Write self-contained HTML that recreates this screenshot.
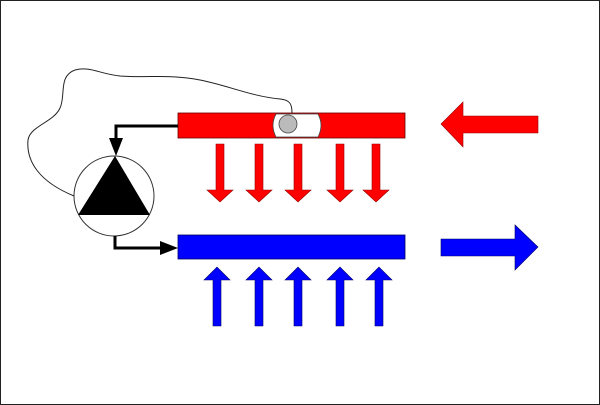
<!DOCTYPE html>
<html><head><meta charset="utf-8"><style>html,body{margin:0;padding:0;background:#fff}svg{display:block}</style></head>
<body>
<svg width="600" height="405" viewBox="0 0 600 405" xmlns="http://www.w3.org/2000/svg">
<rect x="0.5" y="0.5" width="599" height="404" fill="#fff" stroke="#222" stroke-width="1"/>
<!-- wire -->
<path d="M292,113 C292,104 290,100 280,99 C250,96 230,86 200,80 C170,74 150,78 120,76 C100,74 90,66 75,70 C58,76 66,96 60,108 C54,122 30,126 28,140 C26,162 40,182 74,196" fill="none" stroke="#222" stroke-width="1"/>
<!-- red bar -->
<rect x="178" y="113" width="227" height="25" fill="#f00" stroke="#600" stroke-width="0.8"/>
<path d="M276,114 L318,114 Q324,125 318,137 L276,137 Q270,125 276,114 Z" fill="#fff" stroke="#444" stroke-width="0.8"/>
<circle cx="288" cy="124" r="9" fill="#bbb" stroke="#444" stroke-width="0.8"/>
<!-- blue bar -->
<rect x="178" y="235" width="227" height="24" fill="#00f" stroke="#006" stroke-width="0.8"/>
<!-- pump -->
<circle cx="114" cy="196" r="40" fill="#fff" stroke="#333" stroke-width="1"/>
<polygon points="115,156 78,215 150,215" fill="#000"/>
<!-- black connectors -->
<polyline points="178,126 116,126 116,140" fill="none" stroke="#000" stroke-width="3"/>
<polygon points="109,138 123,138 116,156" fill="#000"/>
<polyline points="115,236 115,248 162,248" fill="none" stroke="#000" stroke-width="3"/>
<polygon points="160,241 160,255 178,248" fill="#000"/>
<!-- red down arrows -->
<g fill="#f00" stroke="#900" stroke-width="0.6">
<polygon points="216,144 224,144 224,190 233,190 220,202 207,190 216,190"/>
<polygon points="255,144 263,144 263,190 272,190 259,202 246,190 255,190"/>
<polygon points="294,144 302,144 302,190 311,190 298,202 285,190 294,190"/>
<polygon points="336,144 344,144 344,190 353,190 340,202 327,190 336,190"/>
<polygon points="372,144 380,144 380,190 389,190 376,202 363,190 372,190"/>
</g>
<!-- blue up arrows -->
<g fill="#00f" stroke="#006" stroke-width="0.6">
<polygon points="213,326 221,326 221,280 230,280 217,267 204,280 213,280"/>
<polygon points="255,326 263,326 263,280 272,280 259,267 246,280 255,280"/>
<polygon points="294,326 302,326 302,280 311,280 298,267 285,280 294,280"/>
<polygon points="336,326 344,326 344,280 353,280 340,267 327,280 336,280"/>
<polygon points="375,326 383,326 383,280 392,280 379,267 366,280 375,280"/>
</g>
<!-- big arrows -->
<polygon points="538,116 538,133 463,133 463,147 441,124 463,102 463,116" fill="#f00" stroke="#900" stroke-width="0.6"/>
<polygon points="441,239 515,239 515,225 538,247 515,270 515,256 441,256" fill="#00f" stroke="#006" stroke-width="0.6"/>
</svg>
</body></html>
